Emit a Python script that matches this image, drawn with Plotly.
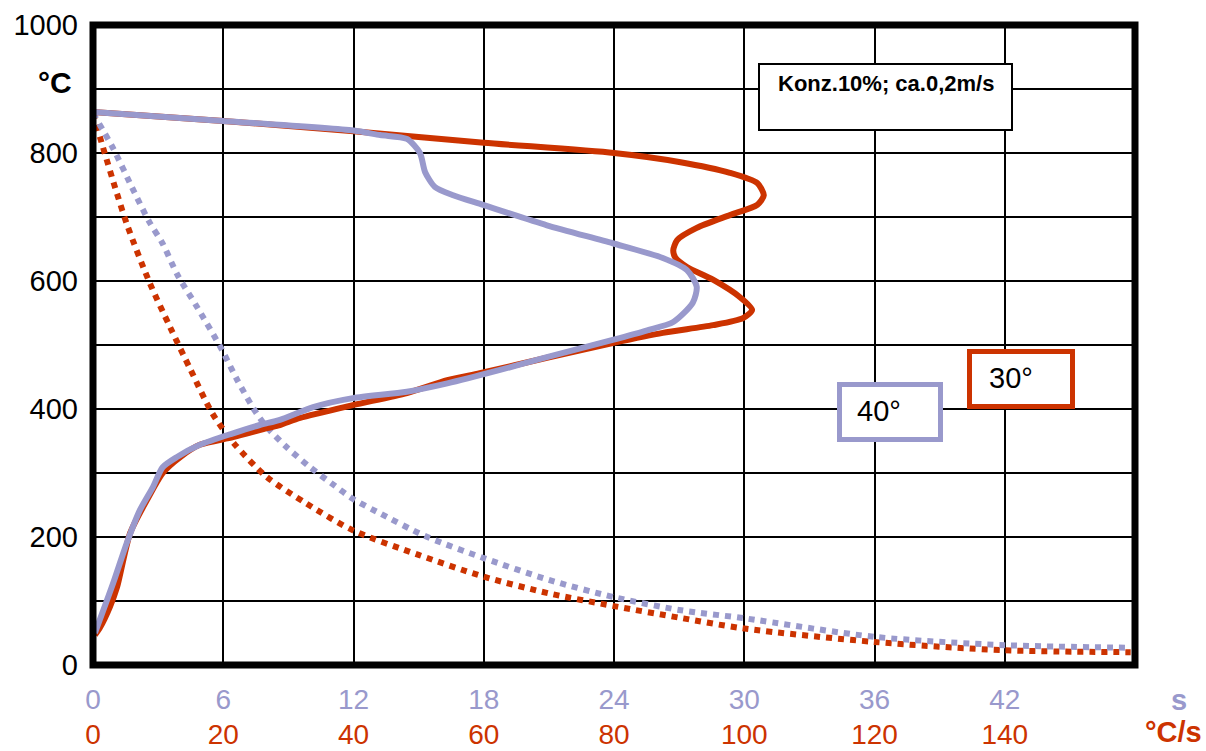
import plotly.graph_objects as go

# ---------------- data ----------------
# dotted curves: temperature (°C) vs time (s)
red_dot_t = [0, 0.45, 1.1, 1.6, 2.6, 3.55, 4.5, 5.5, 6.5, 8.0, 9.8, 12.0, 15.0, 18.0, 21.0, 24.0, 27.0, 30.0, 36.0, 42.0, 47.8]
red_dot_T = [862, 810, 737, 685, 598, 528, 461, 393, 346, 294, 253, 210, 172, 138, 112, 92, 74, 57, 36, 23, 20]

blue_dot_t = [0, 0.9, 1.9, 2.6, 3.2, 3.9, 4.8, 5.9, 6.65, 7.5, 8.0, 8.9, 10.0, 11.1, 12.0, 13.1, 15.4, 18.0, 21.0, 24.0, 27.0, 30.0, 36.0, 42.0, 47.8]
blue_dot_T = [862, 809, 739, 692, 659, 609, 559, 495, 445, 395, 372, 341, 309, 281, 259, 239, 200, 167, 133, 106, 86, 73, 44, 31, 27]

# solid curves: temperature (°C) vs cooling rate (°C/s)
red_rate = [0, 20, 40, 60, 80, 90, 97.8, 102, 103, 102, 97.8, 92.7, 89.7, 89.1, 89.4, 91.2, 95.2, 99.3, 101.2, 99.8, 95.2, 87.5, 79.8, 69.7, 59.4, 54.4, 48.2, 39.9, 31.8, 28.7, 26.7, 21.5, 16.4, 13.4, 10.7, 8.3, 5.7, 3.7, 2.6, 1.1, 0.3]
red_T = [864, 850, 834, 816, 800, 786, 769, 753, 734, 719, 703, 683, 664, 648, 637, 622, 602, 575, 555, 542, 531, 519, 503, 480, 456, 445, 425, 406, 386, 375, 370, 356, 344, 325, 300, 258, 206, 122, 91, 59, 47]

blue_rate = [0, 20, 40, 44.1, 48.2, 50.2, 51, 52.5, 55.3, 59.9, 69.7, 79.8, 87.5, 91.2, 92.7, 92.1, 89.1, 85.1, 79.8, 69.7, 62.5, 54.4, 48.2, 39.9, 33.8, 28.7, 25.6, 21.5, 16.4, 12.9, 10.7, 9.2, 7.2, 5.2, 3.1, 0.3]
blue_T = [864, 850, 835, 828, 822, 800, 770, 747, 734, 719, 687, 659, 636, 617, 591, 566, 536, 523, 508, 481, 461, 440, 427, 417, 403, 383, 375, 362, 344, 325, 309, 278, 242, 191, 128, 50]

time_ticks = [0, 6, 12, 18, 24, 30, 36, 42]
rate_ticks = [0, 20, 40, 60, 80, 100, 120, 140]
temp_ticks = [0, 200, 400, 600, 800, 1000]

RED = "#CC3300"
LAV = "#9999CC"
FONT = "Arial, Liberation Sans, sans-serif"

W, H = 1206, 751
L, R, T, B = 93, 71, 25, 86
PW, PH = W - L - R, H - T - B


def px(xp):
    return (xp - L) / PW


def py(yp):
    return (H - B - yp) / PH


fig = go.Figure()

fig.add_trace(go.Scatter(x=red_dot_t, y=red_dot_T, mode="lines", xaxis="x", yaxis="y",
                         line=dict(color=RED, width=6, dash="6px,6px", shape="spline", smoothing=0.8),
                         showlegend=False, hoverinfo="skip"))
fig.add_trace(go.Scatter(x=blue_dot_t, y=blue_dot_T, mode="lines", xaxis="x", yaxis="y",
                         line=dict(color=LAV, width=6, dash="6px,6px", shape="spline", smoothing=0.8),
                         showlegend=False, hoverinfo="skip"))
fig.add_trace(go.Scatter(x=red_rate, y=red_T, mode="lines", xaxis="x2", yaxis="y",
                         line=dict(color=RED, width=6, shape="spline", smoothing=0.7),
                         showlegend=False, hoverinfo="skip"))
fig.add_trace(go.Scatter(x=blue_rate, y=blue_T, mode="lines", xaxis="x2", yaxis="y",
                         line=dict(color=LAV, width=6, shape="spline", smoothing=0.7),
                         showlegend=False, hoverinfo="skip"))

fig.update_layout(
    width=W, height=H,
    margin=dict(l=L, r=R, t=T, b=B, pad=0, autoexpand=False),
    plot_bgcolor="white", paper_bgcolor="white",
    font=dict(family=FONT, size=29, color="black"),
    xaxis=dict(range=[0, 48], tickvals=time_ticks, ticktext=[str(v) for v in time_ticks],
               showgrid=True, gridcolor="black", gridwidth=1.5, zeroline=False, showline=False,
               automargin=False,
               ticks="", tickfont=dict(size=28, color=LAV, family=FONT), ticklabelstandoff=15),
    xaxis2=dict(range=[0, 160], overlaying="x", anchor="y", side="bottom",
                tickvals=rate_ticks, ticktext=[str(v) for v in rate_ticks],
                showgrid=False, zeroline=False, showline=False, ticks="", automargin=False,
                tickfont=dict(size=28, color=RED, family=FONT), ticklabelstandoff=50),
    yaxis=dict(range=[0, 1000], tickvals=temp_ticks, ticktext=[str(v) for v in temp_ticks],
               showgrid=True, gridcolor="black", gridwidth=1.5, zeroline=False, showline=False,
               minor=dict(dtick=100, showgrid=True, gridcolor="black", gridwidth=1.5),
               automargin=False,
               ticks="", tickfont=dict(size=29, color="black", family=FONT), ticklabelstandoff=14),
)

shapes = [
    # thick frame
    dict(type="rect", xref="paper", yref="paper", x0=0, x1=1, y0=0, y1=1,
         line=dict(color="black", width=7), layer="above"),
    # info box
    dict(type="rect", xref="paper", yref="paper", x0=px(759), x1=px(1012), y0=py(130), y1=py(64),
         line=dict(color="black", width=2), fillcolor="white", layer="above"),
    # 40° box
    dict(type="rect", xref="paper", yref="paper", x0=px(839.5), x1=px(940.5), y0=py(439.5), y1=py(384.5),
         line=dict(color=LAV, width=5), fillcolor="white", layer="above"),
    # 30° box
    dict(type="rect", xref="paper", yref="paper", x0=px(969.5), x1=px(1072.5), y0=py(406.5), y1=py(351.5),
         line=dict(color=RED, width=5), fillcolor="white", layer="above"),
]
fig.update_layout(shapes=shapes)

annotations = [
    dict(text="<b>°C</b>", x=px(55), y=py(83), font=dict(size=30, color="black", family=FONT)),
    dict(text="<b>s</b>", x=px(1179), y=py(700), font=dict(size=29, color=LAV, family=FONT)),
    dict(text="<b>°C/s</b>", x=px(1173), y=py(732), font=dict(size=29, color=RED, family=FONT)),
    dict(text="<b>Konz.10%; ca.0,2m/s</b>", x=px(885.5), y=py(84), font=dict(size=22, color="black", family=FONT)),
    dict(text="40°", x=px(879), y=py(411), font=dict(size=29, color="black", family=FONT)),
    dict(text="30°", x=px(1011), y=py(378), font=dict(size=29, color="black", family=FONT)),
]
for a in annotations:
    a.update(xref="paper", yref="paper", showarrow=False, xanchor="center", yanchor="middle")
fig.update_layout(annotations=annotations)

fig.write_html("out.html", config={"displayModeBar": False},
               post_script="document.body.style.margin='0';")
